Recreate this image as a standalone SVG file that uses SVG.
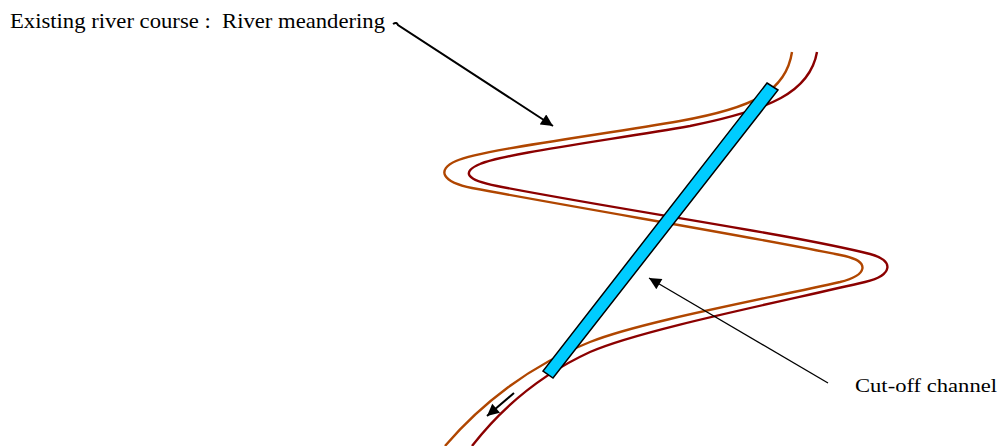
<svg xmlns="http://www.w3.org/2000/svg" width="1000" height="446" viewBox="0 0 1000 446">
<style>
.lbl{font-family:"Liberation Serif","Times New Roman",serif;fill:#000;white-space:pre}
.river{fill:none;stroke-width:2.4}
.ptr{fill:none;stroke:#000}
</style>
<defs>
<marker id="ah2" viewBox="0 0 10 10" refX="10" refY="5" markerWidth="13" markerHeight="12" markerUnits="userSpaceOnUse" orient="auto"><path d="M0,0 L10,5 L0,10 z" fill="#000"/></marker>
</defs>
<rect width="1000" height="446" fill="#fff"/>
<g id="river-orange">
<path class="river" stroke="#B04600" d="M792,52 C786,92 752,108 680,121 C600,135 480,150 456,161 C436,170 442,182 472,188 C600,212 760,238 845,256 C870,262 868,275 840,282 C760,300 640,322 590,342 C530,365 480,405 445,446"/>
</g>
<g id="river-red">
<path class="river" stroke="#8B0000" d="M817,52 C810,92 770,110 690,126 C610,140 502,154 480,164 C461,172 466,180 497,186 C620,210 790,234 870,254 C894,260 894,275 865,282 C780,302 640,330 590,352 C540,375 500,410 472,446"/>
</g>
<g id="cutoff-channel">
<polygon points="767,83 778,90 553,378 543,371" fill="#00CCFF" stroke="#000" stroke-width="1.5"/>
</g>
<g id="label-existing">
<text class="lbl" x="10" y="28" font-size="21" textLength="375" lengthAdjust="spacingAndGlyphs" xml:space="preserve">Existing river course :  River meandering</text>
</g>
<g id="label-cutoff">
<text class="lbl" x="855" y="392" font-size="18.5" textLength="142" lengthAdjust="spacingAndGlyphs">Cut-off channel</text>
</g>
<g id="connectors">
<path class="ptr" stroke-width="2" d="M393,24 C396,22 397,23 398,25 L553,126" marker-end="url(#ah2)"/>
<path class="ptr" stroke-width="1.3" d="M828,383 L649,278" marker-end="url(#ah2)"/>
<path class="ptr" stroke-width="2" d="M514,393 L487,416" marker-end="url(#ah2)"/>
</g>
</svg>
